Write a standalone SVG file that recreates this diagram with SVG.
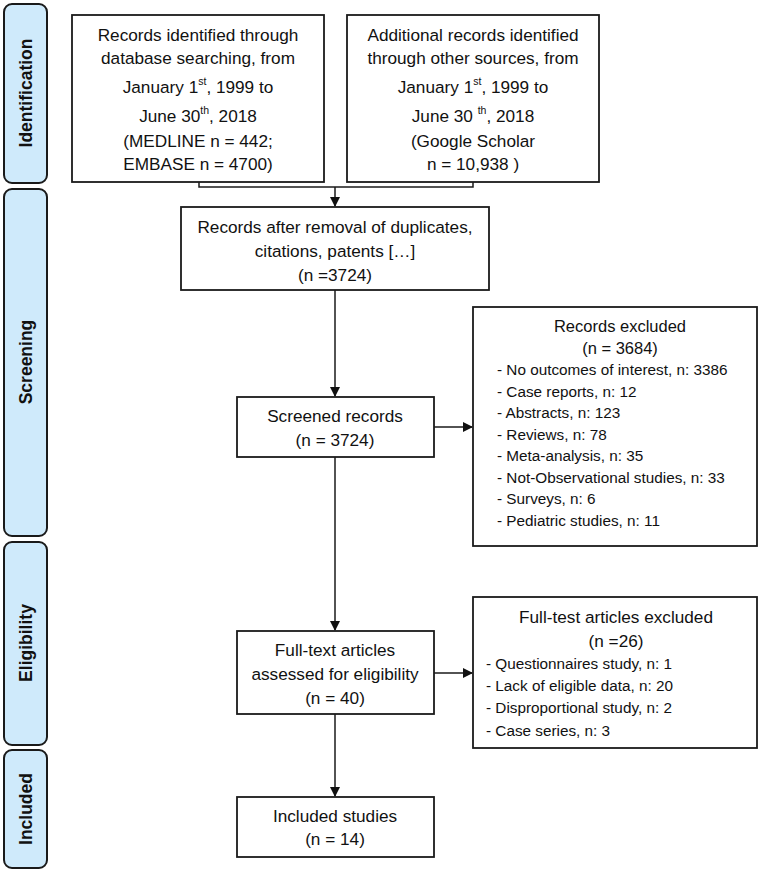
<svg xmlns="http://www.w3.org/2000/svg" width="765" height="876" viewBox="0 0 765 876">
<style>
.stage{fill:#cfeafb;stroke:#1a1a1a;stroke-width:2}
.stage-t{font-family:"Liberation Sans",Arial,sans-serif;font-weight:bold;font-size:17.5px;fill:#111;text-anchor:middle}
.box{fill:#fff;stroke:#1a1a1a;stroke-width:1.8}
.t{font-family:"Liberation Sans",Arial,sans-serif;font-size:17.2px;fill:#111;text-anchor:middle}
.ts{font-size:16.5px}
.l{font-family:"Liberation Sans",Arial,sans-serif;font-size:15.3px;fill:#111}
.sup{font-size:10.5px}
.c{fill:none;stroke:#1a1a1a;stroke-width:1.5}
</style>
<defs>
<marker id="ah" markerWidth="10" markerHeight="10" refX="9" refY="5" orient="auto" markerUnits="userSpaceOnUse">
<path d="M0,0 L10,5 L0,10 Z" fill="#111"/>
</marker>
</defs>
<rect width="765" height="876" fill="#fff"/>
<g id="stage-identification">
<rect class="stage" x="4" y="4" width="43" height="179" rx="8"/>
<text class="stage-t" transform="translate(32,93) rotate(-90)">Identification</text>
</g>
<g id="stage-screening">
<rect class="stage" x="4" y="189" width="43" height="347" rx="8"/>
<text class="stage-t" transform="translate(32,362) rotate(-90)">Screening</text>
</g>
<g id="stage-eligibility">
<rect class="stage" x="4" y="542" width="43" height="203" rx="8"/>
<text class="stage-t" transform="translate(32,643) rotate(-90)">Eligibility</text>
</g>
<g id="stage-included">
<rect class="stage" x="4" y="750" width="43" height="118" rx="8"/>
<text class="stage-t" transform="translate(32,809) rotate(-90)">Included</text>
</g>
<g id="connectors">
<path class="c" d="M199,182 V187 H473 V182"/>
<path class="c" d="M335,187 V206" marker-end="url(#ah)"/>
<path class="c" d="M335,290 V396" marker-end="url(#ah)"/>
<path class="c" d="M434,427 H472" marker-end="url(#ah)"/>
<path class="c" d="M335,457 V630" marker-end="url(#ah)"/>
<path class="c" d="M434,673 H472" marker-end="url(#ah)"/>
<path class="c" d="M335,714 V796" marker-end="url(#ah)"/>
</g>
<g id="db-search">
<rect class="box" x="72" y="15" width="252" height="167"/>
<text class="t" x="198" y="41">Records identified through</text>
<text class="t" x="198" y="64">database searching, from</text>
<text class="t" x="198" y="93">January 1<tspan class="sup" dy="-8">st</tspan><tspan dy="8">, 1999 to</tspan></text>
<text class="t" x="198" y="122">June 30<tspan class="sup" dy="-8">th</tspan><tspan dy="8">, 2018</tspan></text>
<text class="t" x="198" y="147">(MEDLINE n = 442;</text>
<text class="t" x="198" y="170">EMBASE n = 4700)</text>
</g>
<g id="other-sources">
<rect class="box" x="347" y="15" width="252" height="167"/>
<text class="t" x="473" y="41">Additional records identified</text>
<text class="t" x="473" y="64">through other sources, from</text>
<text class="t" x="473" y="93">January 1<tspan class="sup" dy="-8">st</tspan><tspan dy="8">, 1999 to</tspan></text>
<text class="t" x="473" y="122">June 30 <tspan class="sup" dy="-8">th</tspan><tspan dy="8">, 2018</tspan></text>
<text class="t" x="473" y="147">(Google Scholar</text>
<text class="t" x="473" y="170">n = 10,938 )</text>
</g>
<g id="after-duplicates">
<rect class="box" x="181" y="207" width="308" height="83"/>
<text class="t" x="335" y="233">Records after removal of duplicates,</text>
<text class="t" x="335" y="257">citations, patents […]</text>
<text class="t" x="335" y="281">(n =3724)</text>
</g>
<g id="screened">
<rect class="box" x="237" y="397" width="197" height="60"/>
<text class="t" x="335" y="422">Screened records</text>
<text class="t" x="335" y="446">(n = 3724)</text>
</g>
<g id="records-excluded">
<rect class="box" x="473" y="307" width="284" height="239"/>
<text class="t ts" x="620" y="332">Records excluded</text>
<text class="t ts" x="620" y="354">(n = 3684)</text>
<text class="l" x="497" y="375">- No outcomes of interest, n: 3386</text>
<text class="l" x="497" y="397">- Case reports, n: 12</text>
<text class="l" x="497" y="418">- Abstracts, n: 123</text>
<text class="l" x="497" y="440">- Reviews, n: 78</text>
<text class="l" x="497" y="461">- Meta-analysis, n: 35</text>
<text class="l" x="497" y="483">- Not-Observational studies, n: 33</text>
<text class="l" x="497" y="504">- Surveys, n: 6</text>
<text class="l" x="497" y="526">- Pediatric studies, n: 11</text>
</g>
<g id="full-text">
<rect class="box" x="237" y="631" width="197" height="83"/>
<text class="t" x="335" y="656">Full-text articles</text>
<text class="t" x="335" y="680">assessed for eligibility</text>
<text class="t" x="335" y="704">(n = 40)</text>
</g>
<g id="full-text-excluded">
<rect class="box" x="473" y="597" width="284" height="151"/>
<text class="t" x="616" y="623">Full-test articles excluded</text>
<text class="t" x="616" y="647">(n =26)</text>
<text class="l" x="486" y="669">- Questionnaires study, n: 1</text>
<text class="l" x="486" y="691">- Lack of eligible data, n: 20</text>
<text class="l" x="486" y="713">- Disproportional study, n: 2</text>
<text class="l" x="486" y="736">- Case series, n: 3</text>
</g>
<g id="included">
<rect class="box" x="237" y="797" width="197" height="60"/>
<text class="t" x="335" y="822">Included studies</text>
<text class="t" x="335" y="845">(n = 14)</text>
</g>
</svg>
